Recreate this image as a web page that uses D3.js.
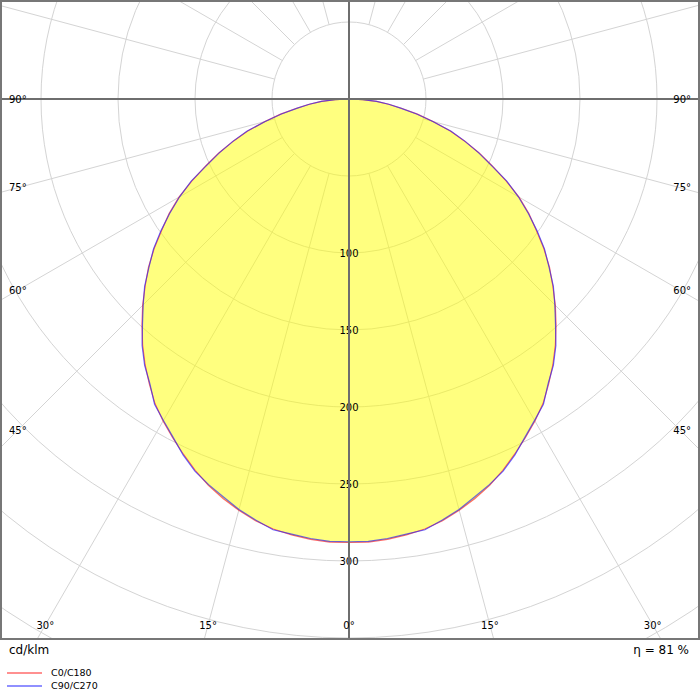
<!DOCTYPE html>
<html>
<head>
<meta charset="utf-8">
<script src="https://cdn.jsdelivr.net/npm/d3@7"></script>
<style>
  html, body { margin: 0; padding: 0; background: #fff; }
  svg { display: block; font-family: "DejaVu Sans", Verdana, sans-serif; }
</style>
</head>
<body>
<svg id="chart" width="700" height="700"></svg>
<script>
// ---- data ----
const gammaAngles = [0, 2.5, 5, 7.5, 10, 12.5, 15, 17.5, 20, 22.5, 25, 27.5, 30, 32.5, 35, 37.5, 40, 42.5, 45,
                     47.5, 50, 52.5, 55, 57.5, 60, 62.5, 65, 67.5, 70, 72.5, 75, 77.5, 80, 82.5, 85, 87.5, 90];
const c0c180  = [288, 288, 287, 285.5, 283.5, 280.5, 276.5, 272, 267, 261, 254.5, 248, 241.5, 234.5, 226, 217.5, 208.5, 199, 189.5,
                 179.5, 170, 159.5, 148.5, 138.5, 127.5, 115, 102.5, 91.5, 80, 69, 56.5, 45.5, 34.5, 26, 18, 9, 0];
const c90c270 = [287.5, 287.5, 286.5, 285, 284, 280, 276, 271, 266.5, 261.5, 255, 247.5, 241, 235, 225.5, 218, 209, 198.5, 189,
                 180, 169.5, 160, 149, 138, 127, 115.5, 102, 91, 80, 69.5, 56, 45, 34, 26, 18, 9, 0];
const seriesNames = ["C0/C180", "C90/C270"];
const ringValues = [50, 100, 150, 200, 250, 300, 350, 400, 450];
const ringLabels = [100, 150, 200, 250, 300];
const sideLabelAngles = [45, 60, 75, 90];
const bottomLabelAngles = [0, 15, 30];
const unitLabel = "cd/klm";
const efficiencyLabel = "η = 81 %";

// ---- layout ----
const svg = d3.select("#chart");
const cx = 349, cy = 99;
const plotW = 699, plotH = 639;
const r = d3.scaleLinear().domain([0, 300]).range([0, 462]);
const deg = Math.PI / 180;

svg.append("defs").append("clipPath").attr("id", "plotclip")
  .append("rect").attr("x", 1).attr("y", 1).attr("width", plotW - 1).attr("height", plotH - 1);

const plot = svg.append("g").attr("clip-path", "url(#plotclip)");
const g = plot.append("g").attr("transform", `translate(${cx},${cy})`);

// rings
g.selectAll("circle.ring").data(ringValues).enter().append("circle")
  .attr("class", "ring").attr("r", d => r(d))
  .attr("fill", "none").attr("stroke", "#d4d4d4").attr("stroke-width", 1);

// radial spokes every 15 degrees (from 50 ring outwards)
const spokes = d3.range(0, 360, 15).filter(a => a % 90 !== 0);
g.selectAll("line.spoke").data(spokes).enter().append("line")
  .attr("class", "spoke")
  .attr("x1", a => r(50) * Math.sin(a * deg)).attr("y1", a => r(50) * Math.cos(a * deg))
  .attr("x2", a => r(600) * Math.sin(a * deg)).attr("y2", a => r(600) * Math.cos(a * deg))
  .attr("stroke", "#d4d4d4").attr("stroke-width", 1);

// main axes
plot.append("line").attr("x1", cx).attr("x2", cx).attr("y1", 0).attr("y2", plotH)
  .attr("stroke", "#6e6e6e").attr("stroke-width", 2);
plot.append("line").attr("x1", 0).attr("x2", plotW).attr("y1", cy).attr("y2", cy)
  .attr("stroke", "#6e6e6e").attr("stroke-width", 2);

// build closed polar polygons (gamma from -90 .. 90)
function polyPoints(vals) {
  const pts = [];
  for (let i = gammaAngles.length - 1; i >= 0; i--) pts.push([Math.PI + gammaAngles[i] * deg, r(vals[i])]);
  for (let i = 1; i < gammaAngles.length; i++) pts.push([Math.PI - gammaAngles[i] * deg, r(vals[i])]);
  return pts;
}
const radial = d3.lineRadial().angle(d => d[0]).radius(d => d[1]).curve(d3.curveLinearClosed);

g.append("path").attr("d", radial(polyPoints(c0c180)))
  .attr("fill", "#ffff00").attr("fill-opacity", 0.5).attr("stroke", "none");

const colors = ["#ff2020", "#2020ff"];
[c0c180, c90c270].forEach((vals, i) => {
  g.append("path").attr("d", radial(polyPoints(vals)))
    .attr("fill", "none").attr("stroke", colors[i]).attr("stroke-opacity", 0.65).attr("stroke-width", 1.2);
});

// ring labels
g.selectAll("text.rl").data(ringLabels).enter().append("text")
  .attr("class", "rl").attr("x", 0).attr("y", d => r(d)).attr("dy", "0.36em")
  .attr("text-anchor", "middle").attr("font-size", 10).attr("fill", "#000")
  .text(d => d);

// angle labels on sides
const labelX = 18;
sideLabelAngles.forEach(a => {
  const t = (cx - labelX) / Math.sin(a * deg);
  const y = cy + t * Math.cos(a * deg);
  plot.append("text").attr("x", 9).attr("y", y).attr("dy", "0.36em")
    .attr("font-size", 10).attr("fill", "#000").attr("text-anchor", "start").text(a + "°");
  plot.append("text").attr("x", 691).attr("y", y).attr("dy", "0.36em")
    .attr("font-size", 10).attr("fill", "#000").attr("text-anchor", "end").text(a + "°");
});
// angle labels at bottom
const by = 625;
bottomLabelAngles.forEach(a => {
  const dx = (by - cy) * Math.tan(a * deg);
  const xs = a === 0 ? [cx] : [cx - dx, cx + dx];
  xs.forEach(x => {
    plot.append("text").attr("x", x).attr("y", by).attr("dy", "0.36em")
      .attr("font-size", 10).attr("fill", "#000").attr("text-anchor", "middle").text(a + "°");
  });
});

// frame
svg.append("rect").attr("x", 1).attr("y", 1).attr("width", plotW - 1).attr("height", plotH - 1)
  .attr("fill", "none").attr("stroke", "#777").attr("stroke-width", 2);

// bottom texts
svg.append("text").attr("x", 9).attr("y", 650).attr("dy", "0.36em")
  .attr("font-size", 12).attr("fill", "#000").text(unitLabel);
svg.append("text").attr("x", 689).attr("y", 650).attr("dy", "0.36em")
  .attr("text-anchor", "end").attr("font-size", 12).attr("fill", "#000").text(efficiencyLabel);

// legend
const legendColors = ["#ff9090", "#9090ff"];
seriesNames.forEach((name, i) => {
  const y = 673 + i * 13;
  svg.append("line").attr("x1", 7).attr("x2", 42).attr("y1", y).attr("y2", y)
    .attr("stroke", legendColors[i]).attr("stroke-width", 2);
  svg.append("text").attr("x", 51).attr("y", y).attr("dy", "0.36em")
    .attr("font-size", 9.5).attr("fill", "#000").text(name);
});
</script>
</body>
</html>
